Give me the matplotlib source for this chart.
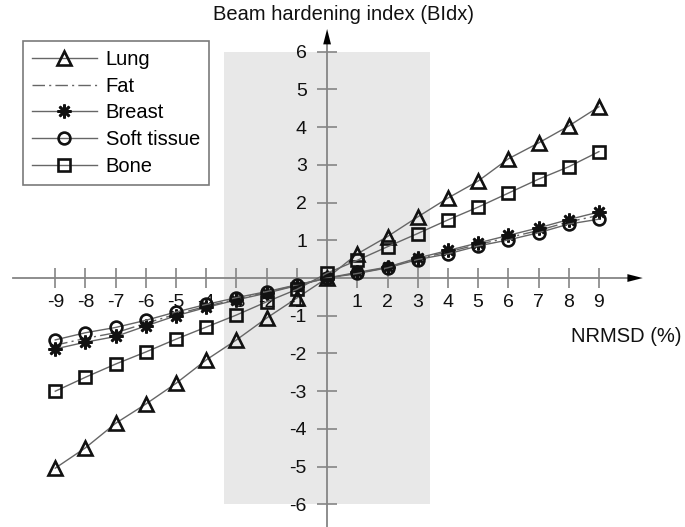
import matplotlib
matplotlib.use("Agg")
import matplotlib.pyplot as plt
from matplotlib.patches import Rectangle

plt.rcParams['font.family'] = ['Liberation Sans', 'DejaVu Sans']

# NRMSD (%) values on the horizontal axis
nrmsd = [-9, -8, -7, -6, -5, -4, -3, -2, -1, 0, 1, 2, 3, 4, 5, 6, 7, 8, 9]

# Beam hardening index per tissue
lung = [-5.04, -4.50, -3.85, -3.34, -2.79, -2.17, -1.64, -1.06, -0.53, 0.00,
        0.64, 1.10, 1.62, 2.12, 2.57, 3.16, 3.58, 4.03, 4.54]
fat = [-1.78, -1.60, -1.45, -1.20, -0.96, -0.75, -0.56, -0.38, -0.19, 0.00,
       0.13, 0.28, 0.51, 0.69, 0.89, 1.07, 1.26, 1.49, 1.66]
breast = [-1.88, -1.70, -1.55, -1.27, -1.00, -0.78, -0.58, -0.40, -0.20, 0.00,
          0.15, 0.29, 0.53, 0.73, 0.93, 1.13, 1.33, 1.55, 1.75]
soft_tissue = [-1.64, -1.45, -1.31, -1.12, -0.90, -0.70, -0.52, -0.36, -0.18, 0.00,
               0.12, 0.27, 0.49, 0.64, 0.85, 1.01, 1.20, 1.43, 1.56]
bone = [-3.00, -2.63, -2.28, -1.96, -1.62, -1.30, -0.98, -0.63, -0.30, 0.13,
        0.47, 0.83, 1.18, 1.54, 1.88, 2.25, 2.62, 2.95, 3.35]

x_ticks = [-9, -8, -7, -6, -5, -4, -3, -2, -1, 1, 2, 3, 4, 5, 6, 7, 8, 9]
y_ticks = [-6, -5, -4, -3, -2, -1, 1, 2, 3, 4, 5, 6]

# highlighted NRMSD band
band_x = [-3.4, 3.4]
band_y = [-6, 6]

FS = 14.5
TICK_FS = 14
AXIS_GRAY = '#858585'
LINE_GRAY = '#666666'

fig = plt.figure(figsize=(6.85, 5.27), dpi=100)
ax = fig.add_axes([0, 0, 1, 1])
ax.set_xlim(-10.83, 11.85)
ax.set_ylim(-6.6, 7.37)

ax.add_patch(Rectangle((band_x[0], band_y[0]), band_x[1] - band_x[0],
                       band_y[1] - band_y[0], facecolor='#e8e8e8',
                       edgecolor='none', zorder=0))

common = dict(color=LINE_GRAY, lw=1.0, mec='#111111', mfc='none', mew=1.9,
              zorder=3, clip_on=False)
ax.plot(nrmsd, lung, marker='^', ms=9.5, label='Lung', **common)
ax.plot(nrmsd, fat, color=LINE_GRAY, lw=1.0, ls=(0, (9, 3, 1.5, 3)),
        label='Fat', zorder=3)
ax.plot(nrmsd, breast, marker=(8, 2, 0), ms=10, label='Breast', **common)
ax.plot(nrmsd, soft_tissue, marker='o', ms=8.5, label='Soft tissue', **common)
ax.plot(nrmsd, bone, marker='s', ms=8, label='Bone', **common)

# axes crossing at the origin
for side in ('top', 'right'):
    ax.spines[side].set_visible(False)
ax.spines['left'].set_position('zero')
ax.spines['bottom'].set_position('zero')
ax.spines['bottom'].set_bounds(-10.4, 10.0)
ax.spines['left'].set_bounds(-6.6, 6.2)
for side in ('left', 'bottom'):
    ax.spines[side].set_color(AXIS_GRAY)
    ax.spines[side].set_linewidth(1.3)
    ax.spines[side].set_zorder(2)

ax.annotate('', xy=(10.45, 0), xytext=(9.9, 0),
            arrowprops=dict(arrowstyle='-|>,head_length=1.1,head_width=0.28',
                            color='black', lw=0.01, shrinkA=0, shrinkB=0))
ax.annotate('', xy=(0, 6.6), xytext=(0, 6.15),
            arrowprops=dict(arrowstyle='-|>,head_length=1.1,head_width=0.28',
                            color='black', lw=0.01, shrinkA=0, shrinkB=0))

ax.set_xticks(x_ticks)
ax.set_yticks(y_ticks)
ax.set_xticklabels([str(v) for v in x_ticks])
ax.set_yticklabels([str(v) for v in y_ticks])
ax.tick_params(direction='inout', length=15, width=1.2, color=AXIS_GRAY,
               labelsize=TICK_FS, labelcolor='#111111')
ax.tick_params(axis='x', pad=4)
ax.tick_params(axis='y', pad=7)

ax.text(11.75, -1.54, 'NRMSD (%)', ha='right', va='center', fontsize=FS,
        color='#111111')
ax.text(0.55, 6.98, 'Beam hardening index (BIdx)', ha='center', va='center',
        fontsize=FS, color='#111111')

leg = ax.legend(loc='upper left', bbox_to_anchor=(23 / 685, 1 - 41 / 527),
                bbox_transform=fig.transFigure, borderaxespad=0,
                fontsize=FS, numpoints=1, handlelength=3.2,
                handletextpad=0.45, labelspacing=0.38, borderpad=0.45,
                fancybox=False, framealpha=1, edgecolor='#7a7a7a')
leg.get_frame().set_linewidth(1.2)

fig.savefig('out.png', dpi=100)
